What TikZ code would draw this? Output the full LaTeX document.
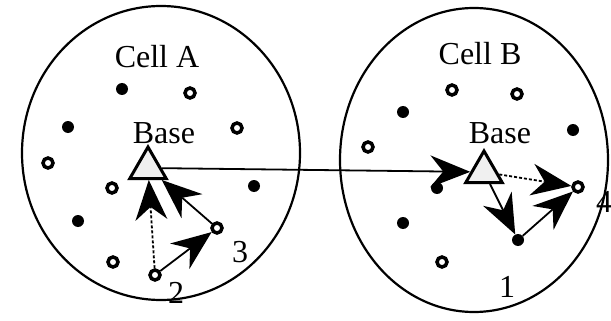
\documentclass[tikz,border=0pt]{standalone}
\usepackage{fontspec}
\setmainfont{Liberation Serif}
\usetikzlibrary{arrows.meta,shapes.geometric}
\tikzset{
  cell/.style={draw, line width=2.2pt},
  dotfull/.style={circle, fill=black, inner sep=0pt, minimum size=12pt},
  dotopen/.style={circle, draw=black, fill=white, line width=3.5pt, inner sep=0pt, minimum size=10pt},
  basest/.style={regular polygon, regular polygon sides=3, draw, line width=3pt,
    inner sep=0pt, minimum size=42pt, fill=black!6},
  txt/.style={font=\fontsize{32}{34}\selectfont, inner sep=0pt, anchor=base},
  move/.style={-{Stealth[length=40pt, width=32pt, inset=13pt, line width=0pt]},
    line width=1.8pt},
  trail/.style={move, dash pattern=on 3pt off 2pt}
}
\begin{document}
\begin{tikzpicture}[x=1pt, y=-1pt]
  \useasboundingbox (0,0) rectangle (611,321);

  % the two cells
  \draw[cell] (161,153) ellipse [x radius=139, y radius=147];
  \draw[cell] (474,160) ellipse [x radius=134, y radius=152];
  \node[txt] (cella) at (157,68) {Cell A};
  \node[txt] (cellb) at (480,65) {Cell B};

  % other stations in cell A
  \foreach \x/\y [count=\i] in {122/89, 68/127, 254/186, 78/221}
    \node[dotfull] (fa\i) at (\x,\y) {};
  \foreach \x/\y [count=\i] in {190/93, 237/128, 48/163, 112/188, 113/262}
    \node[dotopen] (oa\i) at (\x,\y) {};

  % other stations in cell B
  \foreach \x/\y [count=\i] in {403/112, 573/130, 437/188, 403/223}
    \node[dotfull] (fb\i) at (\x,\y) {};
  \foreach \x/\y [count=\i] in {452/90, 517/94, 368/147, 442/262}
    \node[dotopen] (ob\i) at (\x,\y) {};

  % base stations
  \node[basest] (basea) at (148,168) {};
  \node[basest] (baseb) at (484,172) {};
  \node[txt] (labela) at (164,143) {Base};
  \node[txt] (labelb) at (500,143) {Base};

  % the hops
  \node[dotopen] (n2) at (155,275) {};
  \node[dotopen] (n3) at (217,228) {};
  \node[dotfull] (n1) at (518,240) {};
  \node[dotopen] (n4) at (578,187) {};
  \node[txt] (t1) at (507,297) {1};
  \node[txt] (t2) at (176,303) {2};
  \node[txt] (t3) at (240,262) {3};
  \node[txt] (t4) at (604,212) {4};

  \draw[trail] (n2) -- (basea);
  \draw[move] (n2) -- (n3);
  \draw[move] (n3) -- (basea);
  \draw[move] (basea) -- (baseb);
  \draw[move] (baseb) -- (n1);
  \draw[move] (n1) -- (n4);
  \draw[trail] (baseb) -- (n4);
\end{tikzpicture}
\end{document}
